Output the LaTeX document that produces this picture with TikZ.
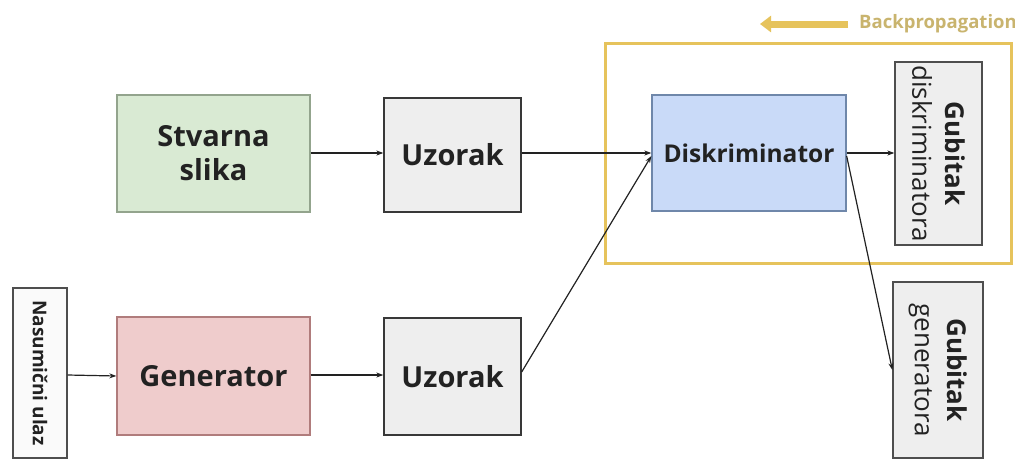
\documentclass[tikz,border=0pt]{standalone}
\usepackage{fontspec}
\setmainfont{Open Sans}
\usetikzlibrary{arrows.meta}
\definecolor{gfill}{HTML}{D9EAD3}
\definecolor{gdraw}{HTML}{93A48D}
\definecolor{ufill}{HTML}{EEEEEE}
\definecolor{bfill}{HTML}{C9DAF8}
\definecolor{bdraw}{HTML}{6F87AA}
\definecolor{rfill}{HTML}{EFCCCC}
\definecolor{rdraw}{HTML}{B07C7C}
\definecolor{gold}{HTML}{E6C35C}
\definecolor{goldtxt}{HTML}{C9B46E}
\definecolor{ln}{HTML}{222222}
\begin{document}
\begin{tikzpicture}[x=1pt,y=-1pt,
  box/.style={rectangle, inner sep=0pt, line width=1.3pt, align=center, text=ln, font=\bfseries\fontsize{29}{34}\selectfont},
  greenbox/.style={box, fill=gfill, draw=gdraw},
  graybox/.style={box, fill=ufill, draw=ln!90},
  bluebox/.style={box, fill=bfill, draw=bdraw, font=\bfseries\fontsize{24.5}{30}\selectfont},
  redbox/.style={box, fill=rfill, draw=rdraw},
  lossbox/.style={rectangle, inner sep=0pt, line width=1.3pt, fill=ufill, draw=ln!80},
  vtext/.style={rotate=-90, align=center, inner sep=0pt, text=ln, font=\fontsize{26}{33}\selectfont},
  conn/.style={ln, line width=1.2pt, -{Stealth[length=7pt,width=5pt]}}
]
\useasboundingbox (0,0) rectangle (1015,461);
\fill[white] (0,0) rectangle (1015,461);

% yellow frame
\node[draw=gold, line width=3pt, minimum width=406pt, minimum height=220pt, inner sep=0pt] (frame) at (808,153) {};
\coordinate (bpA) at (848,24);
\coordinate (bpB) at (760,24);
\draw[gold, line width=7pt, -{Triangle[length=11pt,width=16pt]}] (bpA) -- (bpB);
\node[anchor=west, text=goldtxt, font=\bfseries\fontsize{18.5}{20}\selectfont, inner sep=0pt] (bp) at (859,24) {Backpropagation};

% nodes
\node[greenbox, minimum width=193pt, minimum height=117pt] (stv) at (213.5,153.5) {Stvarna\\slika};
\node[graybox, minimum width=137pt, minimum height=114pt] (uz1) at (452.5,155) {Uzorak};
\node[bluebox, minimum width=194pt, minimum height=116pt] (disk) at (749,153) {Diskriminator};
\node[lossbox, minimum width=87pt, minimum height=183pt] (gd) at (938.5,153.5) {};
\node[vtext] (gdt) at (gd.center) {\bfseries Gubitak\\\mdseries diskriminatora};

\node[lossbox, fill=white!96!gray, minimum width=54pt, minimum height=170pt] (nas) at (40,373) {};
\node[vtext, font=\bfseries\fontsize{19}{22}\selectfont] (nast) at (nas.center) {Nasumični ulaz};
\node[redbox, minimum width=193pt, minimum height=118pt] (gen) at (213.5,376) {Generator};
\node[graybox, minimum width=137pt, minimum height=117pt] (uz2) at (452.5,376.5) {Uzorak};
\node[lossbox, minimum width=90pt, minimum height=176pt] (gg) at (938,370) {};
\node[vtext] (ggt) at (gg.center) {\bfseries Gubitak\\\mdseries generatora};

% connectors
\draw[conn] (stv.east |- 0,153) -- (uz1.west |- 0,153);
\draw[conn] (uz1.east |- 0,153) -- (disk.west |- 0,153);
\draw[conn] (uz2.east |- 0,372) -- (disk.west |- 0,156);
\draw[conn] (disk.east |- 0,153) -- (gd.west |- 0,153);
\draw[conn] (disk.east |- 0,156) -- (gg.west |- 0,370);
\draw[conn] (nas.east |- 0,375) -- (gen.west |- 0,376);
\draw[conn] (gen.east |- 0,375) -- (uz2.west |- 0,375);
\end{tikzpicture}
\end{document}
